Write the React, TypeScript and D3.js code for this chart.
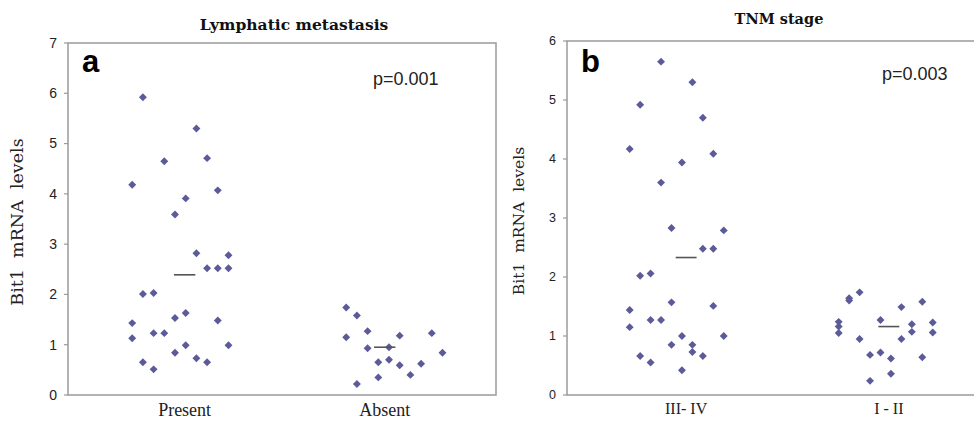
import React from 'react';
import * as d3 from 'd3';

// panel a: Lymphatic metastasis
const presentX = [0.85, 1.1, 0.95, 1.15, 0.8, 1.2, 1.05, 1.0, 1.1, 1.25, 1.15, 1.2, 1.25, 0.85, 0.9, 0.8, 1.0, 1.05, 1.2, 0.8, 0.9, 0.95, 1.05, 1.25, 1.0, 0.85, 0.9, 1.1, 1.15];
const presentY = [5.92, 5.3, 4.65, 4.71, 4.18, 4.07, 3.91, 3.59, 2.82, 2.78, 2.52, 2.52, 2.52, 2.01, 2.03, 1.43, 1.53, 1.63, 1.48, 1.13, 1.23, 1.23, 0.99, 0.99, 0.84, 0.65, 0.51, 0.73, 0.65];
const absentX = [1.8, 1.85, 1.8, 1.9, 2.05, 2.2, 1.9, 2.0, 1.95, 2.0, 2.05, 2.15, 2.25, 2.1, 1.95, 1.85];
const absentY = [1.74, 1.58, 1.15, 1.27, 1.18, 1.23, 0.93, 0.95, 0.65, 0.7, 0.59, 0.62, 0.84, 0.4, 0.35, 0.22];

// panel b: TNM stage
const stage34X = [0.95, 1.1, 0.85, 1.15, 0.8, 1.2, 1.05, 0.95, 1.0, 1.25, 1.15, 1.2, 0.85, 0.9, 0.8, 1.0, 1.2, 0.8, 0.9, 0.95, 1.05, 1.25, 1.0, 1.1, 1.1, 0.85, 1.15, 0.9, 1.05];
const stage34Y = [5.65, 5.3, 4.92, 4.7, 4.17, 4.09, 3.94, 3.6, 2.83, 2.79, 2.48, 2.48, 2.02, 2.06, 1.44, 1.57, 1.51, 1.15, 1.27, 1.27, 1.0, 1.0, 0.85, 0.85, 0.73, 0.66, 0.66, 0.55, 0.42];
const stage12X = [1.8, 1.8, 1.8, 1.85, 1.85, 1.9, 1.9, 1.95, 1.95, 2.0, 2.0, 2.05, 2.05, 2.1, 2.1, 2.15, 2.15, 2.2, 2.2, 2.25, 2.25];
const stage12Y = [1.24, 1.16, 1.05, 1.64, 1.6, 1.74, 0.95, 0.68, 0.24, 1.27, 0.72, 0.62, 0.36, 1.49, 0.95, 1.2, 1.07, 1.58, 0.64, 1.23, 1.06];

const labelsA = ['Present', 'Absent'];
const meanA = [2.39, 0.95];
const meanXA = [1.045, 1.98];
const labelsB = ['III- IV', 'I - II'];
const meanB = [2.33, 1.16];
const meanXB = [1.07, 2.04];

const dotColor = '#5b5b99';
const frameColor = '#9a9a9a';

const zip = (xs: number[], ys: number[]) => xs.map((x, i) => ({ x, y: ys[i] }));

const panels = [
  {
    key: 'a', title: 'Lymphatic metastasis', letter: 'a', p: 'p=0.001',
    groups: [zip(presentX, presentY), zip(absentX, absentY)],
    labels: labelsA, means: meanA, meanX: meanXA, yMax: 7,
    left: 68, right: 496, top: 43, bottom: 395,
    titleX: 294, titleY: 30, titleSize: 15.5, tickSize: 14, ylabSize: 17.5, ylabX: 23, xlabSize: 18, xlabY: 416,
    pX: 373, pY: 85, letterY: 72,
  },
  {
    key: 'b', title: 'TNM stage', letter: 'b', p: 'p=0.003',
    groups: [zip(stage34X, stage34Y), zip(stage12X, stage12Y)],
    labels: labelsB, means: meanB, meanX: meanXB, yMax: 6,
    left: 567, right: 985, top: 41, bottom: 395,
    titleX: 779, titleY: 24, titleSize: 14.5, tickSize: 12.5, ylabSize: 15.5, ylabX: 524, xlabSize: 16, xlabY: 414,
    pX: 882, pY: 80, letterY: 72,
  },
];

const diamond = d3.symbol(d3.symbolDiamond2, 40)();

function Panel({ cfg }: { cfg: typeof panels[number] }) {
  const x = d3.scaleLinear().domain([0.5, 2.5]).range([cfg.left, cfg.right]);
  const y = d3.scaleLinear().domain([0, cfg.yMax]).range([cfg.bottom, cfg.top]);
  const ticks = y.ticks(cfg.yMax);
  return (
    <g>
      <text x={cfg.titleX} y={cfg.titleY} textAnchor="middle"
        fontFamily="DejaVu Serif" fontWeight="bold" fontSize={cfg.titleSize} fill="#111">{cfg.title}</text>
      <rect x={cfg.left} y={cfg.top} width={cfg.right - cfg.left} height={cfg.bottom - cfg.top}
        fill="none" stroke={frameColor} strokeWidth={1.5} />
      {ticks.map((t) => (
        <g key={t}>
          <line x1={cfg.left - 4} x2={cfg.left} y1={y(t)} y2={y(t)} stroke={frameColor} strokeWidth={1.2} />
          <text x={cfg.left - 11} y={y(t)} dy="0.35em" textAnchor="end"
            fontFamily="Liberation Sans" fontSize={cfg.tickSize} fill="#222">{t}</text>
        </g>
      ))}
      <text transform={`translate(${cfg.ylabX},${(cfg.top + cfg.bottom) / 2 + 3}) rotate(-90)`} textAnchor="middle"
        fontFamily="DejaVu Serif" fontSize={cfg.ylabSize} fill="#222" style={{ whiteSpace: 'pre' }}>{'Bit1  mRNA  levels'}</text>
      <text x={cfg.left + 14} y={cfg.letterY} fontFamily="Liberation Sans" fontWeight="bold" fontSize={31} fill="#000">{cfg.letter}</text>
      <text x={cfg.pX} y={cfg.pY} fontFamily="Liberation Sans" fontSize={18} fill="#222">{cfg.p}</text>
      {cfg.groups.map((g, gi) => (
        <g key={gi}>
          {g.map((d, i) => (
            <path key={i} d={diamond} transform={`translate(${x(d.x)},${y(d.y)})`} fill={dotColor} />
          ))}
          <line x1={x(cfg.meanX[gi] - 0.05)} x2={x(cfg.meanX[gi] + 0.05)} y1={y(cfg.means[gi])} y2={y(cfg.means[gi])}
            stroke="#555" strokeWidth={1.6} />
          <text x={x(cfg.meanX[gi])} y={cfg.xlabY} textAnchor="middle" fontFamily="Liberation Serif"
            fontSize={cfg.xlabSize} fill="#222" style={{ whiteSpace: 'pre' }}>{cfg.labels[gi]}</text>
        </g>
      ))}
    </g>
  );
}

export default function App() {
  return (
    <svg width={974} height={421} style={{ position: 'absolute', left: 0, top: 0, background: '#fff' }}>
      <rect width={974} height={421} fill="#fff" />
      {panels.map((p) => <Panel key={p.key} cfg={p} />)}
    </svg>
  );
}
